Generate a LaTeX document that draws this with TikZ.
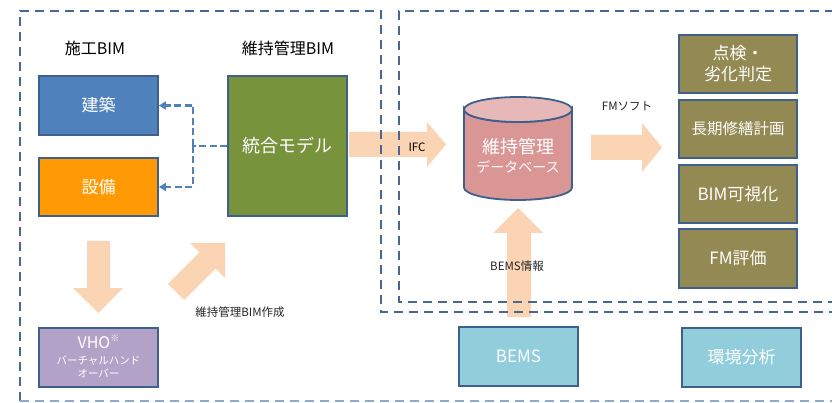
\documentclass[tikz,border=0pt]{standalone}
\usepackage{fontspec}
\setmainfont{Noto Sans CJK JP}
\usetikzlibrary{arrows.meta}
\definecolor{frameblue}{HTML}{4A6793}
\definecolor{framelight}{HTML}{8EAACF}
\definecolor{boxline}{HTML}{3F5F8C}
\definecolor{kblue}{HTML}{4F81BD}
\definecolor{sorange}{HTML}{FF9A05}
\definecolor{mgreen}{HTML}{77933C}
\definecolor{vpurple}{HTML}{B3A2C7}
\definecolor{dbred}{HTML}{D99694}
\definecolor{dbtop}{HTML}{E6B9B8}
\definecolor{olive}{HTML}{938953}
\definecolor{lblue}{HTML}{92CDDC}
\definecolor{peach}{HTML}{FBD4B4}
\definecolor{labelgray}{HTML}{262626}
\begin{document}
\begin{tikzpicture}[x=1pt,y=-1pt,
  box/.style={draw=boxline, line width=1.8pt, minimum width=119pt, minimum height=59pt,
    text=white, font=\fontsize{17}{21}\selectfont, align=center, inner sep=0pt},
  ttl/.style={text=black, font=\fontsize{16}{18}\selectfont, inner sep=0pt},
  lbl/.style={text=labelgray, font=\fontsize{11.5}{13}\selectfont, inner sep=0pt},
  bigarrow/.style={fill=peach, draw=none},
  frame/.style={draw=frameblue, line width=2.3pt, dash pattern=on 9pt off 6pt},
  dconn/.style={draw=kblue, line width=2.3pt, dash pattern=on 7pt off 3.5pt,
    -{Triangle[length=7pt,width=8pt]}}]
\useasboundingbox (0,0) rectangle (832,403);
\fill[white] (0,0) rectangle (832,403);

% titles
\node[ttl] (t1) at (95,48) {施工BIM};
\node[ttl] (t2) at (288,48) {維持管理BIM};

% left boxes
\node[box, fill=kblue] (ken) at (98.5,105.5) {建築};
\node[box, fill=sorange, minimum height=58pt] (set) at (98.5,187) {設備};
\node[box, fill=mgreen, minimum height=140pt, font=\fontsize{18}{21}\selectfont] (model) at (287.5,146) {統合モデル};
\node[box, fill=vpurple] (vho) at (98.5,357.5) {};
\node[text=white, font=\fontsize{16}{18}\selectfont, inner sep=0pt] (vhot) at (98.5,342) {VHO\raisebox{0.45em}{\fontsize{9}{9}\selectfont ※}};
\node[text=white, font=\fontsize{10.5}{13}\selectfont, align=center, inner sep=0pt] (vhos) at (98.5,366.5) {バーチャルハンド\\オーバー};

% dashed connectors
\coordinate (split) at (193,146);
\draw[draw=kblue, line width=2.3pt, dash pattern=on 7pt off 3.5pt] (model.west) -- (split);
\draw[dconn] (split) |- (ken.east);
\draw[dconn] (split) |- (set.east);

% big arrows (left)
\fill[bigarrow] (87,241) -- (110,241) -- (110,288) -- (123,288) -- (98.5,313) -- (73,288) -- (87,288) -- cycle;
\fill[bigarrow] (225,243) -- (190,243) -- (199.4,252.4) -- (167.9,283.9) -- (184.1,300.1) -- (215.6,268.6) -- (225,278) -- cycle;
\node[lbl] (mk) at (240,312) {維持管理BIM作成};

% IFC arrow
\fill[bigarrow] (349,132) -- (427,132) -- (427,122) -- (446,144.5) -- (427,167) -- (427,157) -- (349,157) -- cycle;

% FM arrow
\fill[bigarrow] (591,135) -- (642,135) -- (642,123) -- (662,147.5) -- (642,172) -- (642,160) -- (591,160) -- cycle;

% BEMS arrow
\fill[bigarrow] (507,317) -- (507,233) -- (493,233) -- (518,208) -- (543,233) -- (531,233) -- (531,317) -- cycle;

% database cylinder
\filldraw[fill=dbred, draw=boxline, line width=1.8pt]
  (464,109.5) -- (464,187.5) arc[start angle=180, end angle=360, x radius=54pt, y radius=12.5pt]
  -- (572,109.5) arc[start angle=0, end angle=180, x radius=54pt, y radius=-12.5pt] -- cycle;
\filldraw[fill=dbtop, draw=boxline, line width=1.8pt] (518,109.5) ellipse[x radius=54pt, y radius=12.5pt];
\node[inner sep=0pt, minimum width=108pt, minimum height=70pt] (db) at (518,155) {};
\node[text=white, font=\fontsize{18}{20}\selectfont, inner sep=0pt] (db1) at (518,147) {維持管理};
\node[text=white, font=\fontsize{14}{16}\selectfont, inner sep=0pt] (db2) at (518,167) {データベース};

% labels
\node[lbl, text=black] (ifc) at (417,147) {IFC};
\node[lbl] (fms) at (627,106) {FMソフト};
\node[lbl] (bemsi) at (517,266) {BEMS情報};

% right column
\node[box, fill=olive, minimum width=118pt, minimum height=58pt] (r1) at (738,64) {点検・\\劣化判定};
\node[box, fill=olive, minimum width=118pt, minimum height=58pt, font=\fontsize{15.5}{18}\selectfont] (r2) at (738,129) {長期修繕計画};
\node[box, fill=olive, minimum width=118pt, minimum height=58pt] (r3) at (738,194) {BIM可視化};
\node[box, fill=olive, minimum width=118pt, minimum height=59pt] (r4) at (738,258.5) {FM評価};

% bottom boxes
\node[box, fill=lblue] (bems) at (518.5,356.5) {BEMS};
\node[box, fill=lblue] (env) at (741.5,357.5) {環境分析};

% frames
\draw[frame] (20,401) -- (20,11) -- (381,11) -- (381,312) -- (834,312);
\draw[frame] (834,11) -- (399,11) -- (399,302) -- (834,302);
\draw[frame, draw=framelight] (20,401) -- (834,401);
\end{tikzpicture}
\end{document}
